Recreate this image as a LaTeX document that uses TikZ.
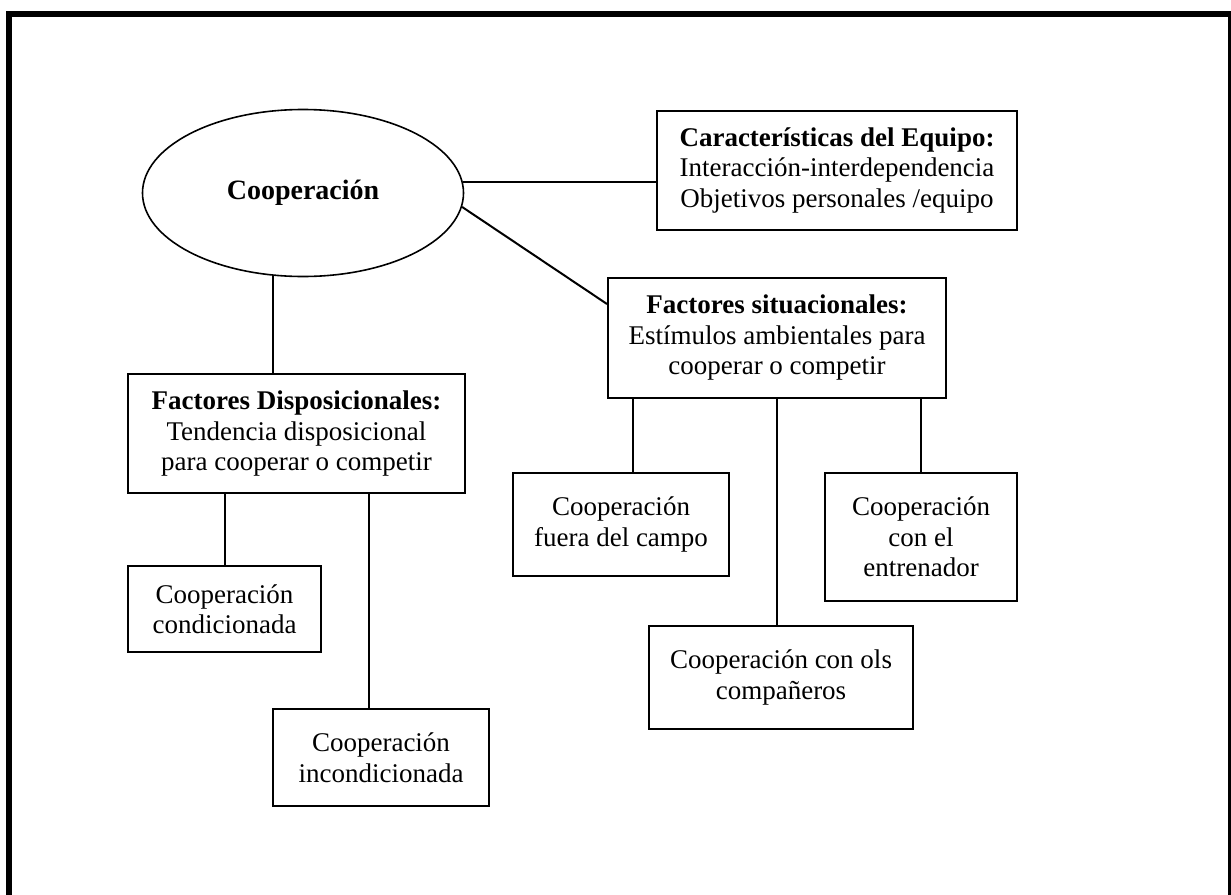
\documentclass[tikz,border=0pt]{standalone}
\usepackage{fontspec}
\setmainfont{Liberation Serif}
\usepackage{tikz}
\usetikzlibrary{shapes.geometric}

\begin{document}
\begin{tikzpicture}[x=0.5pt, y=-0.5pt]
    \tikzstyle{box}=[draw, rectangle, line width=1pt, align=center, inner sep=0pt, font=\fontsize{13.5}{15.25}\selectfont];
    \useasboundingbox (0,0) rectangle (1231,894);
    \draw[line width=3pt] (9,14) rectangle (1231,900);
    % centro
    \node[draw, ellipse, line width=0.8pt, minimum width=160.5pt, minimum height=83.5pt, inner sep=0pt, font=\fontsize{14}{16}\selectfont\bfseries] (coop) at (303,193) {Cooperación};
    % primer nivel
    \node[box, minimum width=180pt, minimum height=59.5pt] (equipo) at (837,170) {\textbf{Características del Equipo:}\\Interacción-interdependencia\\Objetivos personales /equipo};
    \node[box, minimum width=169pt, minimum height=60pt] (situac) at (777,338) {\textbf{Factores situacionales:}\\Estímulos ambientales para\\cooperar o competir};
    \node[box, minimum width=168.5pt, minimum height=59.5pt] (dispo) at (296.5,433.5) {\textbf{Factores Disposicionales:}\\Tendencia disposicional\\para cooperar o competir};
    % segundo nivel
    \node[box, minimum width=108pt, minimum height=51.5pt] (fuera) at (621,524.5) {Cooperación\\fuera del campo};
    \node[box, minimum width=96pt, minimum height=64pt] (entren) at (921,537) {Cooperación\\con el\\entrenador};
    \node[box, minimum width=132pt, minimum height=51.5pt] (compa) at (781,677.5) {Cooperación con ols\\compañeros};
    \node[box, minimum width=96.5pt, minimum height=43pt] (cond) at (224.5,609) {Cooperación\\condicionada};
    \node[box, minimum width=108pt, minimum height=48.5pt] (incond) at (381,757.5) {Cooperación\\incondicionada};
    % conexiones
    \draw[line width=1pt] (coop.4) -- (coop.4 -| equipo.west);
    \draw[line width=1pt] (coop.-5) -- ([yshift=-13.5pt]situac.north west);
    \draw[line width=1pt] (coop.250) -- (coop.250 |- dispo.north);
    \draw[line width=1pt] (633,0 |- situac.south) -- (633,0 |- fuera.north);
    \draw[line width=1pt] (situac.south) -- (situac.south |- compa.north);
    \draw[line width=1pt] (921,0 |- situac.south) -- (921,0 |- entren.north);
    \draw[line width=1pt] (cond.north |- dispo.south) -- (cond.north);
    \draw[line width=1pt] (369,0 |- dispo.south) -- (369,0 |- incond.north);
\end{tikzpicture}
\end{document}
